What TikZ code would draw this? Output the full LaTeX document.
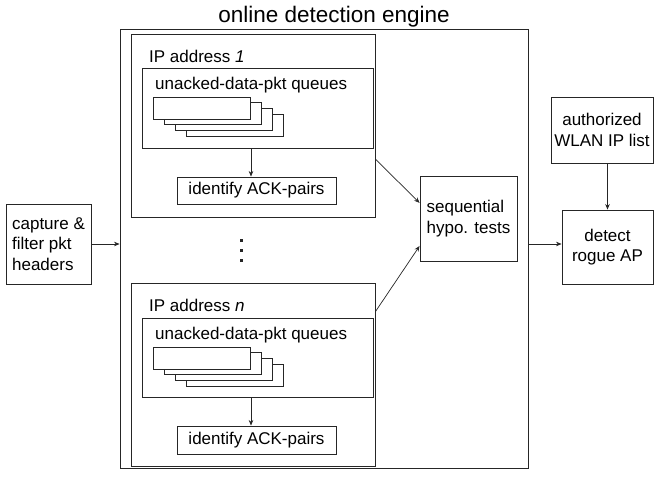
\documentclass[tikz,border=0pt]{standalone}
\usepackage{fontspec}
\setmainfont{Liberation Sans}
\usetikzlibrary{arrows.meta,calc}
\tikzset{
  box/.style={draw=black!85, line width=0.9pt, fill=white, inner sep=0pt, font=\fontsize{17}{20.5}\selectfont},
  arr/.style={draw=black!85, line width=0.7pt, -{Stealth[length=5.5pt,width=4.5pt]}},
  lbl/.style={inner sep=0pt, font=\fontsize{17}{20.5}\selectfont},
  qrect/.style={draw=black!85, line width=0.9pt, fill=white},
  dotm/.style={fill=black!85}
}
\begin{document}
\begin{tikzpicture}[x=1pt,y=-1pt]
\useasboundingbox (0,0) rectangle (654,479);
% title
\node[inner sep=0pt, anchor=base, font=\fontsize{22.5}{26}\selectfont] (title) at (334,22) {online detection engine};
% outer box
\node[box, minimum width=408pt, minimum height=439pt] (outer) at (324,248.5) {};
% IP address 1
\node[box, minimum width=244pt, minimum height=183pt] (ip1) at (253,125.5) {};
\node[lbl, anchor=base west] (ip1lbl) at (149,62) {IP address \textit{1}};
\node[box, minimum width=231pt, minimum height=80pt] (q1) at (257.5,108) {};
\node[lbl, anchor=base west] (q1lbl) at (155,89.5) {unacked-data-pkt queues};
\foreach \k in {3,2,1,0}{
  \draw[qrect] ({153+11.3*\k},{97+5.7*\k}) rectangle ({250+11.3*\k},{119+5.7*\k});
}
\node[box, minimum width=159pt, minimum height=27pt] (id1) at (256.5,190.5) {identify ACK-pairs};
% dots
\foreach \yy in {240.7,250.7,260.7}{
  \fill[dotm] (240.2,\yy-1.5) rectangle (243.2,\yy+1.5);
}
% IP address n
\node[box, minimum width=244pt, minimum height=183pt] (ipn) at (253,374.5) {};
\node[lbl, anchor=base west] (ipnlbl) at (149,311) {IP address \textit{n}};
\node[box, minimum width=231pt, minimum height=79pt] (qn) at (257.5,357.5) {};
\node[lbl, anchor=base west] (qnlbl) at (155,339.5) {unacked-data-pkt queues};
\foreach \k in {3,2,1,0}{
  \draw[qrect] ({153+11.3*\k},{347+5.7*\k}) rectangle ({250+11.3*\k},{369+5.7*\k});
}
\node[box, minimum width=159pt, minimum height=28pt] (idn) at (256.5,440) {identify ACK-pairs};
% left and right boxes
\node[box, minimum width=85pt, minimum height=80pt, align=left] (cap) at (48.5,244) {capture \&\\filter pkt\\headers};
\node[box, minimum width=97pt, minimum height=85pt, align=left] (seq) at (468.5,218.5) {sequential\\hypo. tests};
\node[box, minimum width=102pt, minimum height=66pt, align=center] (auth) at (602,130) {authorized\\WLAN IP list};
\node[box, minimum width=91pt, minimum height=74pt, align=center] (det) at (607.5,247) {detect\\rogue AP};
% connectors
\draw[arr] (cap.east |- 0,244) -- (outer.west |- 0,244);
\draw[arr] (q1.south -| 251,0) -- (id1.north -| 251,0);
\draw[arr] (qn.south -| 251,0) -- (idn.north -| 251,0);
\draw[arr] ($(ip1.north east)!0.683!(ip1.south east)$) -- ($(seq.north west)!0.318!(seq.south west)$);
\draw[arr] ($(ipn.north east)!0.158!(ipn.south east)$) -- ($(seq.north west)!0.82!(seq.south west)$);
\draw[arr] (outer.east |- 0,244) -- (det.west |- 0,244);
\draw[arr] (auth.south -| det) -- (det.north);
\end{tikzpicture}
\end{document}
